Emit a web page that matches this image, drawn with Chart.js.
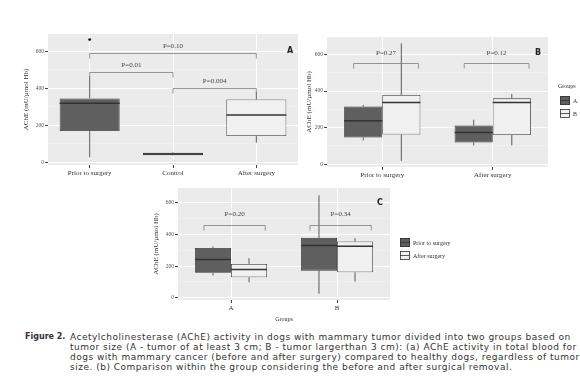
<!DOCTYPE html>
<html>
<head>
<meta charset="utf-8">
<script src="https://cdn.jsdelivr.net/npm/chart.js@4.4.1/dist/chart.umd.min.js"></script>
<style>
  body { margin: 0; background: #fff; width: 580px; height: 383px; overflow: hidden; position: relative; }
  canvas { position: absolute; }
  #figLabel { position: absolute; left: 25px; top: 332px; font: bold 8px 'DejaVu Sans'; line-height: 10px; color: #333; }
  #caption { position: absolute; left: 70px; top: 332px; font: 9px 'DejaVu Sans'; letter-spacing: 0.5px; line-height: 10px; color: #333; white-space: nowrap; }
</style>
</head>
<body>
<canvas id="chartA" width="295" height="160" style="left:10px;top:25px"></canvas>
<canvas id="chartB" width="282" height="160" style="left:298px;top:25px"></canvas>
<canvas id="chartC" width="330" height="140" style="left:140px;top:183px"></canvas>
<div id="figLabel">Figure 2.</div>
<div id="caption">Acetylcholinesterase (AChE) activity in dogs with mammary tumor divided into two groups based on<br>tumor size (A - tumor of at least 3 cm; B - tumor largerthan 3 cm): (a) AChE activity in total blood for<br>dogs with mammary cancer (before and after surgery) compared to healthy dogs, regardless of tumor<br>size. (b) Comparison within the group considering the before and after surgical removal.</div>
<script>
// shared y ticks
const yTicks = [0, 200, 400, 600];

// panel A: all dogs
const catsA = ['Prior to surgery', 'Control', 'After surgery'];
const minA = [27, 36, 106];
const q1A = [169, 38, 142];
const medA = [319, 45, 256];
const q3A = [346, 52, 340];
const maxA = [467, 56, 380];
const outA = [665, null, null];
const sigTextA = ['P=0.10', 'P=0.01', 'P=0.004'];
const sigFromA = [0, 0, 1];
const sigToA = [2, 1, 2];
const sigYA = [594, 488, 405];

// panel B: by moment, grouped by tumor size
const catsB = ['Prior to surgery', 'After surgery'];
const groupNamesB = ['A', 'B'];
const minBa = [130, 103];
const q1Ba = [146, 119];
const medBa = [238, 173];
const q3Ba = [315, 211];
const maxBa = [324, 243];
const minBb = [18, 103];
const q1Bb = [162, 160];
const medBb = [337, 337];
const q3Bb = [378, 360];
const maxBb = [660, 384];
const sigTextB = ['P=0.27', 'P=0.12'];
const sigYB = [554, 554];

// panel C: by tumor size group, grouped by moment
const catsC = ['A', 'B'];
const momentNamesC = ['Prior to surgery', 'After surgery'];
const minCp = [140, 25];
const q1Cp = [157, 171];
const medCp = [241, 330];
const q3Cp = [315, 379];
const maxCp = [324, 648];
const minCa = [97, 102];
const q1Ca = [129, 161];
const medCa = [178, 326];
const q3Ca = [214, 356];
const maxCa = [250, 377];
const sigTextC = ['P=0.20', 'P=0.34'];
const sigYC = [462, 462];

const DARK = '#5f5f5f';
const LIGHT = '#f0f0f0';
const LINE = '#333333';
const SERIF = 'Liberation Serif';

const boxplot = {
    id: 'boxplot',
    beforeDraw(chart) {
        const { ctx, chartArea: a } = chart;
        ctx.save();
        ctx.fillStyle = '#ebebeb';
        ctx.fillRect(a.left, a.top, a.right - a.left, a.bottom - a.top);
        ctx.restore();
    },
    beforeDatasetsDraw(chart) {
        const { ctx } = chart;
        const y = chart.scales.y;
        ctx.save();
        ctx.strokeStyle = LINE;
        ctx.lineWidth = 0.8;
        chart.data.datasets.forEach((ds, d) => {
            chart.getDatasetMeta(d).data.forEach((bar, i) => {
                ctx.beginPath();
                ctx.moveTo(bar.x, y.getPixelForValue(ds.whiskLo[i]));
                ctx.lineTo(bar.x, y.getPixelForValue(ds.data[i][0]));
                ctx.moveTo(bar.x, y.getPixelForValue(ds.data[i][1]));
                ctx.lineTo(bar.x, y.getPixelForValue(ds.whiskHi[i]));
                ctx.stroke();
            });
        });
        ctx.restore();
    },
    afterDatasetsDraw(chart) {
        const { ctx } = chart;
        const y = chart.scales.y;
        ctx.save();
        chart.data.datasets.forEach((ds, d) => {
            chart.getDatasetMeta(d).data.forEach((bar, i) => {
                const py = y.getPixelForValue(ds.medians[i]);
                ctx.strokeStyle = LINE;
                ctx.lineWidth = 1.5;
                ctx.beginPath();
                ctx.moveTo(bar.x - bar.width / 2, py);
                ctx.lineTo(bar.x + bar.width / 2, py);
                ctx.stroke();
                if (ds.outliers && ds.outliers[i] != null) {
                    ctx.fillStyle = '#111';
                    ctx.beginPath();
                    ctx.arc(bar.x, y.getPixelForValue(ds.outliers[i]), 1.4, 0, Math.PI * 2);
                    ctx.fill();
                }
            });
        });
        ctx.restore();
    },
    afterDraw(chart, args, o) {
        const { ctx, chartArea: a } = chart;
        const y = chart.scales.y;
        ctx.save();
        // significance brackets
        ctx.strokeStyle = '#7d7d7d';
        ctx.lineWidth = 0.8;
        ctx.fillStyle = '#444';
        ctx.font = '7px ' + SERIF;
        ctx.textAlign = 'center';
        ctx.textBaseline = 'middle';
        (o.brackets || []).forEach(b => {
            const e0 = chart.getDatasetMeta(b.d0).data[b.i0];
            const e1 = chart.getDatasetMeta(b.d1).data[b.i1];
            const x0 = e0.x - b.k0 * e0.width;
            const x1 = e1.x + b.k1 * e1.width;
            const py = Math.round(y.getPixelForValue(b.y)) + 0.5;
            ctx.beginPath();
            ctx.moveTo(x0, py + 5);
            ctx.lineTo(x0, py);
            ctx.lineTo(x1, py);
            ctx.lineTo(x1, py + 5);
            ctx.stroke();
            ctx.fillText(b.text, (x0 + x1) / 2, py - o.textGap);
        });
        // panel letter
        ctx.fillStyle = '#222';
        ctx.font = 'bold 8px DejaVu Sans';
        ctx.fillText(o.letter, a.right - o.letterDx, a.top + o.letterDy);
        // legend
        if (o.legend) {
            const L = o.legend;
            const lx = a.right + L.dx;
            ctx.textAlign = 'left';
            if (L.title) {
                ctx.fillStyle = '#333';
                ctx.font = '6px ' + SERIF;
                ctx.fillText(L.title, lx - 2, a.top + L.dy - 10);
            }
            chart.data.datasets.forEach((ds, d) => {
                const ty = a.top + L.dy + d * 13;
                ctx.fillStyle = ds.backgroundColor;
                ctx.fillRect(lx, ty, 10, 9);
                ctx.strokeStyle = LINE;
                ctx.lineWidth = 0.8;
                ctx.strokeRect(lx + 0.5, ty + 0.5, 9, 8);
                ctx.beginPath();
                ctx.moveTo(lx, ty + 4.5);
                ctx.lineTo(lx + 10, ty + 4.5);
                ctx.stroke();
                ctx.fillStyle = '#333';
                ctx.font = '6px ' + SERIF;
                ctx.fillText(ds.label, lx + 13, ty + 5);
            });
        }
        ctx.restore();
    }
};

function makeScales(yWidth, xHeight, titlePad, xTitle) {
    return {
        x: {
            type: 'category',
            grid: { offset: false, color: '#ffffff', lineWidth: 1, tickColor: '#444', tickLength: 3 },
            border: { display: false },
            ticks: { color: '#333', font: { family: SERIF, size: 7 }, padding: 1, maxRotation: 0 },
            title: { display: !!xTitle, text: xTitle || '', color: '#333', font: { family: SERIF, size: 6 }, padding: { top: 1, bottom: 0 } },
            afterFit(s) { s.height = xHeight; }
        },
        y: {
            min: -15,
            max: 695,
            afterBuildTicks(s) { s.ticks = [0, 100, 200, 300, 400, 500, 600].map(v => ({ value: v })); },
            grid: {
                color: c => yTicks.includes(c.tick.value) ? '#ffffff' : '#f4f4f4',
                lineWidth: c => yTicks.includes(c.tick.value) ? 1 : 0.6,
                tickColor: c => yTicks.includes(c.tick.value) ? '#444' : 'rgba(0,0,0,0)',
                tickLength: 3
            },
            border: { display: false },
            ticks: {
                color: '#555', font: { family: SERIF, size: 5.5 }, padding: 1,
                callback: v => yTicks.includes(v) ? String(v) : ''
            },
            title: { display: true, text: 'AChE (mU/µmol Hb)', color: '#333', font: { family: SERIF, size: 7 }, padding: { top: titlePad, bottom: 0 } },
            afterFit(s) { s.width = yWidth; }
        }
    };
}

function baseOptions(padding, scales, plug) {
    return {
        responsive: false,
        animation: false,
        devicePixelRatio: 1,
        layout: { padding },
        plugins: { legend: { display: false }, tooltip: { enabled: false }, boxplot: plug },
        scales
    };
}

// Panel A
new Chart(document.getElementById('chartA'), {
    type: 'bar',
    data: {
        labels: catsA,
        datasets: [{
            label: 'AChE',
            data: q1A.map((v, i) => [v, q3A[i]]),
            whiskLo: minA, whiskHi: maxA, medians: medA, outliers: outA,
            backgroundColor: catsA.map((c, i) => i < 2 ? DARK : LIGHT),
            borderColor: LINE, borderWidth: 0.8, borderSkipped: false,
            barPercentage: 0.72, categoryPercentage: 1
        }]
    },
    options: baseOptions({ top: 9, right: 7, left: 0, bottom: 0 }, makeScales(38, 20, 12), {
        brackets: sigTextA.map((t, i) => ({ d0: 0, i0: sigFromA[i], d1: 0, i1: sigToA[i], k0: 0, k1: 0, y: sigYA[i], text: t })),
        textGap: 7, letter: 'A', letterDx: 8, letterDy: 17
    }),
    plugins: [boxplot]
});

// Panel B
new Chart(document.getElementById('chartB'), {
    type: 'bar',
    data: {
        labels: catsB,
        datasets: [{
            label: groupNamesB[0],
            data: q1Ba.map((v, i) => [v, q3Ba[i]]),
            whiskLo: minBa, whiskHi: maxBa, medians: medBa,
            backgroundColor: DARK, borderColor: LINE, borderWidth: 0.8, borderSkipped: false,
            barPercentage: 1, categoryPercentage: 0.69
        }, {
            label: groupNamesB[1],
            data: q1Bb.map((v, i) => [v, q3Bb[i]]),
            whiskLo: minBb, whiskHi: maxBb, medians: medBb,
            backgroundColor: LIGHT, borderColor: LINE, borderWidth: 0.8, borderSkipped: false,
            barPercentage: 1, categoryPercentage: 0.69
        }]
    },
    options: baseOptions({ top: 12, right: 32, left: 0, bottom: 0 }, makeScales(29, 18, 7), {
        brackets: sigTextB.map((t, i) => ({ d0: 0, i0: i, d1: 1, i1: i, k0: 0.25, k1: 0.45, y: sigYB[i], text: t })),
        textGap: 10, letter: 'B', letterDx: 10, letterDy: 16,
        legend: { title: 'Groups', dx: 12, dy: 59 }
    }),
    plugins: [boxplot]
});

// Panel C
new Chart(document.getElementById('chartC'), {
    type: 'bar',
    data: {
        labels: catsC,
        datasets: [{
            label: momentNamesC[0],
            data: q1Cp.map((v, i) => [v, q3Cp[i]]),
            whiskLo: minCp, whiskHi: maxCp, medians: medCp,
            backgroundColor: DARK, borderColor: LINE, borderWidth: 0.8, borderSkipped: false,
            barPercentage: 1, categoryPercentage: 0.68
        }, {
            label: momentNamesC[1],
            data: q1Ca.map((v, i) => [v, q3Ca[i]]),
            whiskLo: minCa, whiskHi: maxCa, medians: medCa,
            backgroundColor: LIGHT, borderColor: LINE, borderWidth: 0.8, borderSkipped: false,
            barPercentage: 1, categoryPercentage: 0.68
        }]
    },
    options: baseOptions({ top: 5, right: 80, left: 0, bottom: 0 }, makeScales(38, 23, 12, 'Groups'), {
        brackets: sigTextC.map((t, i) => ({ d0: 0, i0: i, d1: 1, i1: i, k0: 0.25, k1: 0.45, y: sigYC[i], text: t })),
        textGap: 11, letter: 'C', letterDx: 10, letterDy: 15,
        legend: { dx: 10, dy: 50 }
    }),
    plugins: [boxplot]
});
</script>
</body>
</html>
